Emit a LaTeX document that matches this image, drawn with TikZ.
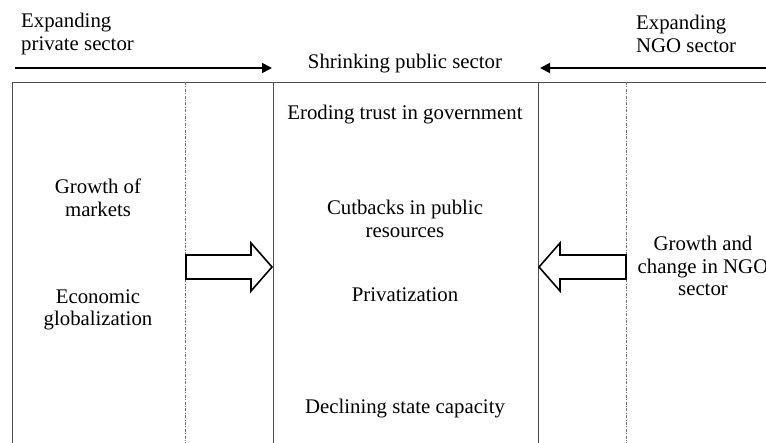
\documentclass[tikz,border=0pt]{standalone}
\usepackage{fontspec}
\setmainfont{Liberation Serif}
\usetikzlibrary{arrows.meta}
\begin{document}
\begin{tikzpicture}[x=1pt,y=-1pt,
  lbl/.style={font=\fontsize{20.8}{22.5}\selectfont, inner sep=0pt, align=center},
  frame/.style={draw=black!70, line width=0.8pt},
  guide/.style={draw=black!55, line width=0.6pt, dash pattern=on 3pt off 1.5pt on 0.8pt off 1.5pt},
  trend/.style={draw=black, line width=1.8pt, -{Triangle[length=10pt,width=10pt]}},
  blockarrow/.style={draw=black, line width=1.6pt, fill=white, line join=miter}]
\useasboundingbox (0,0) rectangle (766,443);
% frame
\draw[frame] (12,443) -- (12,82) -- (766,82);
\draw[frame] (273,82) -- (273,443);
\draw[frame] (538,82) -- (538,443);
\draw[guide] (185,82) -- (185,443);
\draw[guide] (626,82) -- (626,443);
% trend arrows
\coordinate (pl) at (15,68); \coordinate (pr) at (272,68);
\coordinate (nr) at (766,68); \coordinate (nl) at (540,68);
\draw[trend] (pl) -- (pr);
\draw[trend] (nr) -- (nl);
% block arrows
\draw[blockarrow] (186,255) -- (251,255) -- (251,243) -- (272,267) -- (251,291) -- (251,279) -- (186,279) -- cycle;
\draw[blockarrow] (626,255) -- (560,255) -- (560,243) -- (539,267) -- (560,291) -- (560,279) -- (626,279) -- cycle;
% labels
\node[lbl, align=left, anchor=west] (priv) at (21,34) {Expanding\\private sector};
\node[lbl, align=left, anchor=west] (ngo) at (636,34) {Expanding\\NGO sector};
\node[lbl] (pub) at (405,64) {Shrinking public sector};
\node[lbl] (trust) at (405,115) {Eroding trust in government};
\node[lbl] (cut) at (405,219) {Cutbacks in public\\resources};
\node[lbl] (privat) at (405,295) {Privatization};
\node[lbl] (decl) at (405,409) {Declining state capacity};
\node[lbl] (mkts) at (98,198) {Growth of\\markets};
\node[lbl] (glob) at (98,310) {Economic\\globalization};
\node[lbl] (ngog) at (703,266) {Growth and\\change in NGO\\sector};
\end{tikzpicture}
\end{document}
